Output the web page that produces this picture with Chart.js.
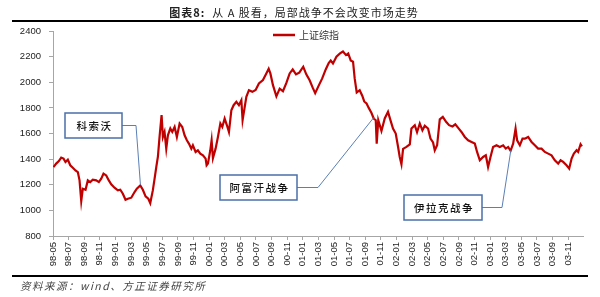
<!DOCTYPE html>
<html>
<head>
<meta charset="utf-8">
<script src="https://cdn.jsdelivr.net/npm/chart.js@4.4.0/dist/chart.umd.min.js"></script>
<style>
body { margin: 0; width: 600px; height: 297px; overflow: hidden; background: #fff; position: relative; font-family: "Noto Sans CJK SC", sans-serif; }
#wrap { position: absolute; left: 0; top: 0; width: 600px; height: 297px; }
#title { position: absolute; top: 4px; left: 0; width: 588px; text-align: center; font-size: 11px; letter-spacing: 1px; color: #222; }
#title b { font-weight: 700; }
.rule { position: absolute; left: 12px; width: 576px; height: 2px; background: #000; }
#source { position: absolute; left: 20px; top: 278px; font-size: 10.5px; font-style: italic; letter-spacing: 1.5px; color: #444; }
</style>
</head>
<body>
<div id="wrap"><canvas id="chart" width="600" height="297"></canvas></div>
<div id="title"><b>图表8:</b>&nbsp;&nbsp;从 A 股看，局部战争不会改变市场走势</div>
<div class="rule" style="top:20px"></div>
<div class="rule" style="top:275px"></div>
<div id="source">资料来源：wind、方正证券研究所</div>
<script>
// month offsets from 1998-05 and index values
const months = [0.06, 0.41, 0.75, 1.05, 1.35, 1.60, 1.90, 2.21, 2.54, 2.88, 3.18, 3.40, 3.62, 3.82, 4.17, 4.46, 4.77, 5.10, 5.54, 5.87,
  6.18, 6.47, 6.82, 7.15, 7.46, 7.88, 8.31, 8.62, 8.95, 9.29, 9.59, 10.03, 10.45, 10.74, 11.18, 11.51, 11.86, 12.21, 12.46, 12.79,
  13.02, 13.23, 13.44, 13.65, 13.91, 14.08, 14.29, 14.51, 14.72, 15.03, 15.28, 15.58, 15.87, 16.22, 16.56, 16.86, 17.15, 17.41, 17.72, 17.92,
  18.27, 18.56, 18.87, 19.21, 19.55, 19.68, 19.85, 20.15, 20.32, 20.49, 20.83, 21.13, 21.44, 21.69, 21.99, 22.28, 22.54, 22.85, 23.14, 23.49,
  23.82, 24.13, 24.29, 24.77, 25.10, 25.54, 25.96, 26.38, 26.90, 27.33, 27.63, 27.85, 28.18, 28.62, 29.04, 29.46, 29.90, 30.32, 30.71, 31.13,
  31.55, 32.06, 32.45, 32.88, 33.27, 33.59, 34.01, 34.49, 34.94, 35.32, 35.58, 35.87, 36.31, 36.77, 37.15, 37.54, 37.82, 38.14, 38.44, 38.65,
  38.91, 39.29, 39.62, 39.87, 40.17, 40.45, 40.79, 41.09, 41.35, 41.47, 41.67, 42.08, 42.50, 42.92, 43.23, 43.56, 43.91, 44.21, 44.42, 44.64,
  44.85, 45.28, 45.71, 45.92, 46.35, 46.64, 46.99, 47.33, 47.63, 48.05, 48.36, 48.69, 48.91, 49.21, 49.55, 49.94, 50.36, 50.74, 51.18, 51.54,
  51.96, 52.33, 52.76, 53.18, 53.62, 54.04, 54.33, 54.68, 55.10, 55.45, 55.74, 56.05, 56.38, 56.82, 57.24, 57.67, 58.01, 58.31, 58.62, 58.95,
  59.26, 59.46, 59.81, 60.15, 60.45, 60.87, 61.31, 61.73, 62.15, 62.59, 63.01, 63.44, 63.87, 64.29, 64.72, 65.03, 65.36, 65.79, 66.13, 66.44,
  66.73, 67.08, 67.28, 67.59, 67.76];
const values = [1338, 1365, 1385, 1412, 1404, 1378, 1396, 1352, 1333, 1312, 1299, 1234, 1072, 1169, 1161, 1234, 1221, 1240, 1234, 1221,
  1248, 1287, 1273, 1234, 1203, 1177, 1156, 1161, 1130, 1083, 1091, 1099, 1143, 1169, 1195, 1161, 1109, 1091, 1057, 1156,
  1250, 1338, 1420, 1573, 1743, 1573, 1612, 1482, 1586, 1639, 1612, 1651, 1573, 1678, 1651, 1586, 1547, 1521, 1482, 1508,
  1456, 1469, 1443, 1430, 1404, 1352, 1365, 1469, 1547, 1408, 1482, 1573, 1678, 1651, 1717, 1664, 1612, 1782, 1821, 1847,
  1821, 1860, 1704, 1886, 1938, 1925, 1940, 1990, 2017, 2069, 2105, 2069, 1977, 1890, 1950, 1930, 1995, 2069, 2100, 2062,
  2075, 2121, 2062, 2015, 1958, 1915, 1970, 2030, 2100, 2150, 2170, 2147, 2199, 2225, 2240, 2212, 2225, 2170, 2160, 2030,
  1920, 1938, 1895, 1850, 1834, 1800, 1762, 1717, 1704, 1521, 1704, 1620, 1717, 1769, 1704, 1639, 1600, 1495, 1417, 1360,
  1480, 1495, 1515, 1639, 1665, 1610, 1678, 1625, 1660, 1639, 1560, 1530, 1469, 1508, 1710, 1730, 1691, 1665, 1655, 1672,
  1640, 1612, 1573, 1547, 1534, 1521, 1456, 1391, 1417, 1430, 1338, 1417, 1495, 1508, 1495, 1508, 1482, 1495, 1465, 1521,
  1639, 1547, 1508, 1560, 1560, 1573, 1534, 1508, 1482, 1482, 1456, 1443, 1430, 1391, 1365, 1391, 1378, 1352, 1326, 1404,
  1443, 1469, 1456, 1516, 1500];

const tickLabels = ['98-05', '98-07', '98-09', '98-11', '99-01', '99-03', '99-05', '99-07', '99-09', '99-11',
  '00-01', '00-03', '00-05', '00-07', '00-09', '00-11', '01-01', '01-03', '01-05', '01-07', '01-09', '01-11',
  '02-01', '02-03', '02-05', '02-07', '02-09', '02-11', '03-01', '03-03', '03-05', '03-07', '03-09', '03-11'];

const seriesName = '上证综指';
const eventNames = ['科索沃', '阿富汗战争', '伊拉克战争'];
const eventMonths = [11.2, 41.1, 58.65];
const eventValues = [1200, 1725, 1468];

const RED = '#C00000';
const AXIS = '#A6A6A6';

// callout boxes: [left, top, width, height, elbow x]
const boxes = [
  [65, 113, 57, 25, 136],
  [220, 175, 77, 25, 318],
  [404, 195, 78, 25, 502]
];

const overlay = {
  id: 'overlay',
  afterDatasetsDraw(chart) {
    const ctx = chart.ctx;
    const xs = chart.scales.x, ys = chart.scales.y;
    ctx.save();
    // legend
    ctx.strokeStyle = RED;
    ctx.lineWidth = 2.5;
    ctx.beginPath();
    ctx.moveTo(273, 35);
    ctx.lineTo(295, 35);
    ctx.stroke();
    ctx.fillStyle = '#333';
    ctx.font = '10px "Noto Sans CJK SC"';
    ctx.textBaseline = 'middle';
    ctx.textAlign = 'left';
    ctx.fillText(seriesName, 299, 35);

    // callouts
    eventNames.forEach((name, i) => {
      const [bx, by, bw, bh, ex] = boxes[i];
      const my = by + bh / 2;
      const tx = xs.getPixelForValue(eventMonths[i]);
      const ty = ys.getPixelForValue(eventValues[i]);
      ctx.strokeStyle = '#5B7FB5';
      ctx.lineWidth = 1;
      ctx.beginPath();
      ctx.moveTo(bx + bw, my);
      ctx.lineTo(ex, my);
      ctx.lineTo(tx, ty);
      ctx.stroke();
      ctx.fillStyle = '#fff';
      ctx.fillRect(bx, by, bw, bh);
      ctx.strokeStyle = '#4A70A8';
      ctx.lineWidth = 1.5;
      ctx.strokeRect(bx, by, bw, bh);
      ctx.fillStyle = '#111';
      ctx.font = '500 10.5px "Noto Sans CJK SC"';
      ctx.letterSpacing = '1.5px';
      ctx.textAlign = 'center';
      ctx.fillText(name, bx + bw / 2 + 1, my + 0.5);
      ctx.letterSpacing = '0px';
    });
    ctx.restore();
  }
};

new Chart(document.getElementById('chart'), {
  type: 'line',
  data: {
    datasets: [{
      label: seriesName,
      data: months.map((m, i) => ({ x: m, y: values[i] })),
      borderColor: RED,
      borderWidth: 2.2,
      pointRadius: 0,
      tension: 0,
      fill: false
    }]
  },
  options: {
    responsive: false,
    animation: false,
    layout: { padding: { top: 31, right: 17, bottom: 22, left: 0 } },
    plugins: { legend: { display: false }, tooltip: { enabled: false } },
    scales: {
      x: {
        type: 'linear',
        min: 0,
        max: 67.9,
        afterBuildTicks: s => { s.ticks = tickLabels.map((l, i) => ({ value: i * 2 })); },
        afterFit: s => { s.height = 39; },
        grid: { drawOnChartArea: false, tickLength: 4, color: AXIS },
        border: { color: AXIS },
        ticks: {
          autoSkip: false,
          minRotation: 90,
          maxRotation: 90,
          padding: 2,
          color: '#222',
          font: { family: 'Liberation Sans', size: 9.5 },
          callback: (v, i) => tickLabels[i]
        }
      },
      y: {
        min: 800,
        max: 2400,
        afterFit: s => { s.width = 53; },
        grid: { drawOnChartArea: false, tickLength: 4, color: AXIS },
        border: { color: AXIS },
        ticks: {
          stepSize: 200,
          padding: 8,
          color: '#222',
          font: { family: 'Liberation Sans', size: 9.5 },
          callback: v => String(v)
        }
      }
    }
  },
  plugins: [overlay]
});
</script>
</body>
</html>
